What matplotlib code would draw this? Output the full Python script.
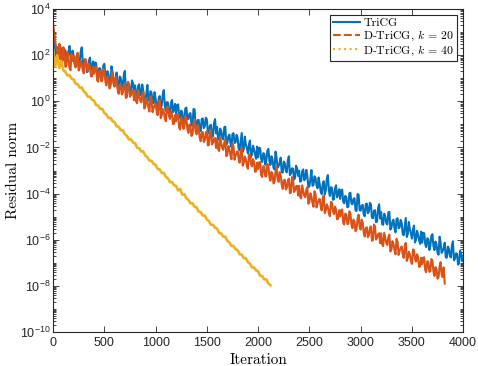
import numpy as np
import matplotlib
matplotlib.use("Agg")
import matplotlib.pyplot as plt
from matplotlib.lines import Line2D
from matplotlib.ticker import FixedLocator, LogLocator, FuncFormatter, NullFormatter

plt.rcParams['font.family'] = ['Liberation Sans', 'DejaVu Sans']
plt.rcParams['mathtext.fontset'] = 'cm'

# ---- data: log10(residual norm) ----
# samples at iterations 0, 20, 40, ... ("even") and 10, 30, 50, ... ("odd")
tricg_even = [
    2.80, 2.25, 2.35, 1.85, 2.30, 1.80, 2.20, 1.75, 2.40, 1.80,
    1.97, 1.52, 2.08, 1.68, 2.34, 1.44, 1.79, 1.30, 1.90, 1.51,
    1.26, 1.66, 1.07, 1.42, 1.12, 1.63, 0.93, 1.19, 0.74, 1.24,
    0.90, 1.25, 0.61, 1.01, 0.61, 1.32, 0.57, 0.77, 0.38, 0.78,
    0.69, 0.24, 0.74, 0.35, 0.45, 0.01, 0.71, 0.06, 0.37, -0.08,
    0.12, -0.32, 0.23, -0.16, 0.49, -0.41, -0.05, -0.55, 0.06, -0.34,
    -0.54, -0.13, -0.73, -0.48, -0.87, -0.27, -0.77, -0.51, -1.06, -0.35,
    -1.05, -0.80, -1.29, -0.74, -1.08, -0.78, -1.38, -1.02, -1.52, -0.77,
    -1.11, -1.66, -1.30, -1.65, -1.10, -1.79, -1.44, -1.98, -1.38, -1.78,
    -1.57, -2.12, -1.37, -2.06, -1.86, -2.25, -1.70, -2.30, -2.09, -2.49,
    -2.43, -2.03, -2.63, -2.27, -2.57, -2.06, -2.76, -2.51, -2.95, -2.45,
    -2.80, -2.44, -3.09, -2.68, -3.08, -2.38, -3.12, -2.92, -3.32, -2.91,
    -3.01, -3.45, -2.95, -3.35, -3.24, -3.69, -2.98, -3.63, -3.33, -3.77,
    -3.57, -4.02, -3.46, -3.86, -3.20, -4.10, -3.75, -4.24, -3.64, -4.03,
    -4.23, -3.83, -4.42, -4.17, -4.57, -3.96, -4.46, -4.20, -4.75, -4.05,
    -4.74, -4.49, -4.98, -4.43, -4.78, -4.47, -5.07, -4.72, -5.21, -4.46,
    -4.80, -5.35, -5.00, -5.34, -4.79, -5.48, -5.13, -5.68, -5.07, -5.47,
    -5.27, -5.81, -5.06, -5.75, -5.55, -5.95, -5.39, -5.99, -5.78, -6.18,
    -6.13, -5.72, -6.32, -5.97, -6.26, -5.76, -6.45, -6.20, -6.65, -6.14,
    -6.49, -6.13, -6.78, -6.38, -6.77, -6.07, -6.82, -6.61, -7.01, -6.60,
    -6.70]
tricg_odd = [
    2.45, 1.95, 2.15, 2.05, 1.95, 2.25, 1.90, 2.10, 2.00, 2.20,
    1.65, 1.95, 1.51, 2.16, 1.66, 1.82, 1.27, 1.77, 1.38, 1.73,
    1.69, 1.19, 1.44, 0.95, 1.55, 1.11, 1.31, 0.81, 1.52, 0.82,
    1.02, 0.63, 1.08, 0.69, 1.14, 0.49, 0.80, 0.30, 0.91, 0.46,
    0.21, 0.67, 0.27, 0.73, -0.02, 0.33, 0.04, 0.44, 0.04, 0.40,
    -0.20, 0.11, -0.34, 0.31, -0.18, -0.03, -0.58, -0.07, -0.47, -0.11,
    -0.16, -0.66, -0.40, -0.90, -0.30, -0.74, -0.54, -1.03, -0.33, -1.03,
    -0.82, -1.22, -0.77, -1.16, -0.71, -1.35, -1.05, -1.55, -0.94, -1.39,
    -1.63, -1.18, -1.58, -1.12, -1.87, -1.52, -1.81, -1.41, -1.80, -1.45,
    -2.05, -1.74, -2.19, -1.53, -2.03, -1.88, -2.42, -1.92, -2.31, -1.96,
    -2.01, -2.50, -2.25, -2.75, -2.14, -2.59, -2.38, -2.88, -2.18, -2.87,
    -2.67, -3.06, -2.61, -3.01, -2.55, -3.20, -2.90, -3.39, -2.79, -3.23,
    -3.48, -3.03, -3.42, -2.97, -3.72, -3.36, -3.66, -3.25, -3.65, -3.30,
    -3.89, -3.59, -4.03, -3.38, -3.88, -3.72, -4.27, -3.77, -4.16, -3.81,
    -3.85, -4.35, -4.10, -4.59, -3.99, -4.43, -4.23, -4.73, -4.02, -4.72,
    -4.52, -4.91, -4.46, -4.85, -4.40, -5.05, -4.74, -5.24, -4.63, -5.08,
    -5.33, -4.87, -5.27, -4.82, -5.56, -5.21, -5.50, -5.10, -5.50, -5.14,
    -5.74, -5.43, -5.88, -5.23, -5.72, -5.57, -6.12, -5.61, -6.01, -5.65,
    -5.70, -6.20, -5.94, -6.44, -5.83, -6.28, -6.08, -6.57, -5.87, -6.57,
    -6.36, -6.76, -6.30, -6.70, -6.25, -6.89, -6.59, -7.08, -6.48, -6.93]

dtricg20_even = [
    3.40, 2.60, 2.20, 2.50, 1.55, 2.35, 1.50, 2.15, 1.45, 2.05,
    1.97, 1.47, 2.11, 1.46, 1.61, 1.21, 1.81, 1.31, 1.50, 1.10,
    1.20, 1.50, 0.85, 1.30, 0.90, 1.34, 0.69, 0.99, 0.64, 1.29,
    0.64, 0.93, 0.33, 0.73, 0.38, 0.78, 0.18, 0.77, 0.27, 0.47,
    0.47, -0.08, 0.27, -0.04, 0.41, -0.24, 0.01, -0.44, 0.11, -0.30,
    -0.10, -0.60, 0.05, -0.60, -0.45, -0.86, -0.26, -0.76, -0.56, -0.96,
    -0.86, -0.57, -1.22, -0.77, -1.17, -0.72, -1.37, -1.07, -1.43, -0.78,
    -1.43, -1.13, -1.73, -1.33, -1.69, -1.29, -1.89, -1.29, -1.79, -1.59,
    -1.60, -2.15, -1.80, -2.10, -1.65, -2.30, -2.06, -2.51, -1.96, -2.36,
    -2.16, -2.66, -2.01, -2.67, -2.52, -2.92, -2.32, -2.82, -2.62, -3.03,
    -2.93, -2.63, -3.28, -2.83, -3.23, -2.79, -3.44, -3.14, -3.49, -2.84,
    -3.49, -3.20, -3.80, -3.40, -3.75, -3.35, -3.95, -3.35, -3.86, -3.66,
    -3.66, -4.21, -3.86, -4.16, -3.72, -4.37, -4.12, -4.57, -4.02, -4.42,
    -4.23, -4.73, -4.08, -4.73, -4.58, -4.98, -4.39, -4.89, -4.69, -5.09,
    -4.99, -4.69, -5.34, -4.90, -5.30, -4.85, -5.50, -5.20, -5.55, -4.91,
    -5.56, -5.26, -5.86, -5.46, -5.81, -5.42, -6.02, -5.42, -5.92, -5.72,
    -5.72, -6.28, -5.93, -6.23, -5.78, -6.43, -6.18, -6.63, -6.09, -6.49,
    -6.29, -6.79, -6.14, -6.79, -6.65, -7.05, -6.45, -6.95, -6.75, -7.15,
    -7.06, -6.76, -7.41, -6.96, -7.36, -6.91, -7.57, -7.27, -7.62, -6.97,
    -7.62, -7.90]
dtricg20_odd = [
    3.00, 2.35, 1.80, 2.40, 1.70, 2.20, 1.55, 1.95, 1.35, 1.75,
    1.64, 1.99, 1.34, 1.74, 1.34, 1.83, 1.43, 1.63, 1.08, 1.48,
    1.48, 0.92, 1.32, 0.87, 1.42, 0.87, 1.07, 0.56, 1.11, 0.76,
    1.06, 0.51, 0.71, 0.30, 0.70, 0.15, 0.85, 0.20, 0.45, 0.05,
    -0.01, 0.49, 0.04, 0.29, -0.31, 0.14, -0.27, 0.23, -0.47, -0.17,
    -0.42, -0.08, -0.73, -0.33, -0.73, -0.23, -0.63, -0.43, -0.99, -0.59,
    -0.59, -1.14, -0.74, -1.19, -0.65, -1.20, -1.00, -1.50, -0.95, -1.30,
    -1.01, -1.56, -1.36, -1.76, -1.36, -1.91, -1.22, -1.87, -1.62, -2.02,
    -2.07, -1.57, -2.02, -1.78, -2.38, -1.93, -2.33, -1.83, -2.53, -2.24,
    -2.49, -2.14, -2.79, -2.39, -2.79, -2.30, -2.70, -2.50, -3.05, -2.65,
    -2.65, -3.21, -2.81, -3.26, -2.71, -3.26, -3.06, -3.56, -3.02, -3.37,
    -3.07, -3.62, -3.42, -3.82, -3.43, -3.98, -3.28, -3.93, -3.68, -4.08,
    -4.14, -3.64, -4.09, -3.84, -4.44, -3.99, -4.40, -3.90, -4.60, -4.30,
    -4.55, -4.20, -4.85, -4.46, -4.86, -4.36, -4.76, -4.56, -5.11, -4.72,
    -4.72, -5.27, -4.87, -5.32, -4.77, -5.33, -5.13, -5.63, -5.08, -5.43,
    -5.13, -5.69, -5.49, -5.89, -5.49, -6.04, -5.34, -5.99, -5.75, -6.15,
    -6.20, -5.70, -6.15, -5.90, -6.51, -6.06, -6.46, -5.96, -6.66, -6.36,
    -6.62, -6.27, -6.92, -6.52, -6.92, -6.42, -6.83, -6.63, -7.18, -6.78,
    -6.78, -7.33, -6.93, -7.39, -6.84, -7.39, -7.19, -7.69, -7.14, -7.50,
    -7.20]

# D-TriCG k=40: samples every 20 iterations from 0 to 2120
dtricg40_log10 = [
    2.25, 1.50, 2.00, 1.45, 1.75, 1.35, 1.28, 1.13, 1.13, 0.99,
    0.95, 0.77, 0.75, 0.60, 0.60, 0.43, 0.36, 0.20, 0.20, 0.07,
    0.03, -0.16, -0.18, -0.32, -0.32, -0.50, -0.57, -0.72, -0.72, -0.86,
    -0.90, -1.08, -1.10, -1.25, -1.25, -1.42, -1.49, -1.65, -1.65, -1.78,
    -1.82, -2.01, -2.03, -2.17, -2.17, -2.35, -2.42, -2.57, -2.57, -2.71,
    -2.75, -2.93, -2.95, -3.10, -3.10, -3.27, -3.34, -3.50, -3.50, -3.63,
    -3.67, -3.86, -3.80, -4.05, -4.02, -4.20, -4.27, -4.42, -4.42, -4.56,
    -4.60, -4.78, -4.80, -4.95, -4.95, -5.12, -5.19, -5.35, -5.35, -5.48,
    -5.52, -5.71, -5.73, -5.87, -5.87, -6.05, -6.12, -6.27, -6.27, -6.41,
    -6.45, -6.63, -6.65, -6.80, -6.80, -6.97, -7.04, -7.20, -7.20, -7.33,
    -7.37, -7.56, -7.58, -7.72, -7.72, -7.90, -7.97]

series_labels = ['TriCG', 'D-TriCG, $k$ = 20', 'D-TriCG, $k$ = 40']
series_colors = ['#0072BD', '#D95319', '#EDB120']
series_styles = ['-', '--', ':']

x_ticks = [0, 500, 1000, 1500, 2000, 2500, 3000, 3500, 4000]
y_tick_exps = [-10, -8, -6, -4, -2, 0, 2, 4]


def merge(even, odd):
    it = np.concatenate([np.arange(len(even)) * 20, 10 + np.arange(len(odd)) * 20])
    val = np.concatenate([even, odd])
    order = np.argsort(it)
    return it[order], 10.0 ** val[order]


# ---- figure ----
fig = plt.figure(figsize=(4.78, 3.66), dpi=100)
ax = fig.add_axes([0.111, 0.093, 0.858, 0.882])

x1, y1 = merge(tricg_even, tricg_odd)
x2, y2 = merge(dtricg20_even, dtricg20_odd)
x3 = np.arange(len(dtricg40_log10)) * 20
y3 = 10.0 ** np.asarray(dtricg40_log10)

ax.plot(x1, y1, color=series_colors[0], lw=1.5)
ax.plot(x2, y2, color=series_colors[1], lw=1.5)
ax.plot(x3, y3, color=series_colors[2], lw=1.9)

ax.set_yscale('log')
ax.set_xlim(0, 4000)
ax.set_ylim(1e-10, 1e4)

ax.xaxis.set_major_locator(FixedLocator(x_ticks))
ax.yaxis.set_major_locator(FixedLocator([10.0 ** e for e in y_tick_exps]))
ax.yaxis.set_minor_locator(LogLocator(base=10, subs=np.arange(1, 10), numticks=100))
ax.yaxis.set_minor_formatter(NullFormatter())
ax.yaxis.set_major_formatter(FuncFormatter(
    lambda y, pos: r'$\mathregular{10^{%d}}$' % int(round(np.log10(y)))))

frame_col = '#262626'
for s in ax.spines.values():
    s.set_color(frame_col)
    s.set_linewidth(0.8)
ax.tick_params(which='both', direction='in', top=True, right=True,
               colors=frame_col, labelcolor=frame_col, width=0.6)
ax.tick_params(which='major', length=4, labelsize=9)
ax.tick_params(which='minor', length=2.2)
ax.tick_params(axis='y', which='major', pad=2)

ax.set_xlabel('Iteration', fontfamily='cmr10', fontsize=11, labelpad=3)
ax.set_ylabel('Residual norm', fontfamily='cmr10', fontsize=11, labelpad=0)

handles = [Line2D([], [], color=c, ls=s, lw=1.5) for c, s in zip(series_colors, series_styles)]
leg = ax.legend(handles, series_labels, loc='upper right', fancybox=False,
                framealpha=1, edgecolor=frame_col, borderpad=0.25,
                labelspacing=0.03, handlelength=2.3, handletextpad=0.3,
                borderaxespad=0.5, prop={'family': 'cmr10', 'size': 8.5})
leg.get_frame().set_linewidth(0.8)

fig.savefig('out.png', dpi=100)
